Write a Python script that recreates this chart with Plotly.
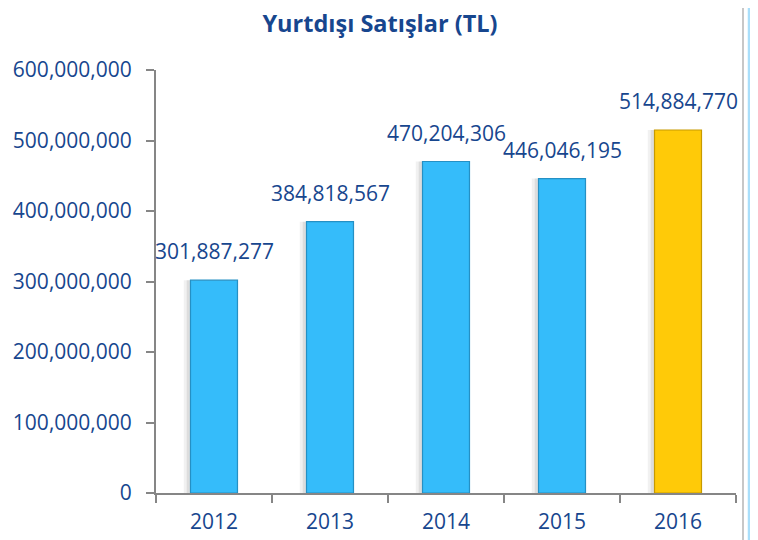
import plotly.graph_objects as go

years = ["2012", "2013", "2014", "2015", "2016"]
sales = [301887277, 384818567, 470204306, 446046195, 514884770]
labels = ["301,887,277", "384,818,567", "470,204,306", "446,046,195", "514,884,770"]
bar_colors = ["#35BCFA", "#35BCFA", "#35BCFA", "#35BCFA", "#FFCA08"]
edge_colors = ["#2590C4", "#2590C4", "#2590C4", "#2590C4", "#C79A00"]
y_ticks = [0, 100000000, 200000000, 300000000, 400000000, 500000000, 600000000]
y_tick_text = ["0", "100,000,000", "200,000,000", "300,000,000", "400,000,000", "500,000,000", "600,000,000"]

TXT = "#17468E"
FONT = "Open Sans"

# page has an 8px body margin, so the figure is 8px smaller and shifted
W, H = 750, 532
L, T, B = 148, 62, 47
R = W - L - 580

fig = go.Figure()
# soft shadow on the left of each bar
fig.add_trace(go.Bar(
    x=years, y=sales, width=0.44, offset=-0.26,
    marker=dict(color="rgba(120,120,120,0.10)", line=dict(width=0)),
    hoverinfo="skip", showlegend=False,
))
fig.add_trace(go.Bar(
    x=years, y=sales, width=0.42, offset=-0.235,
    marker=dict(color="rgba(100,100,100,0.14)", line=dict(width=0)),
    hoverinfo="skip", showlegend=False,
))
fig.add_trace(go.Bar(
    x=years, y=sales, width=0.405, offset=-0.2025,
    marker=dict(color=bar_colors, line=dict(color=edge_colors, width=1.2)),
    showlegend=False,
))

for i, (v, t) in enumerate(zip(sales, labels)):
    fig.add_annotation(x=i, y=v, text=t, showarrow=False, yanchor="bottom",
                       yshift=13, font=dict(family=FONT, size=21, color=TXT))

px = lambda p: (p - 8 - L) / 580.0
fig.update_layout(
    width=W, height=H,
    margin=dict(l=L, r=R, t=T, b=B, autoexpand=False),
    paper_bgcolor="white", plot_bgcolor="white",
    barmode="overlay",
    title=dict(text="<b>Yurtdışı Satışlar (TL)</b>", x=(380 - 8) / W, xanchor="center",
               xref="container",
               y=1 - 16 / H, yanchor="middle",
               font=dict(family=FONT, size=23.5, color=TXT)),
    xaxis=dict(type="category", showgrid=False, showline=True, linecolor="#868686", linewidth=2,
               ticks="outside", tickson="boundaries", ticklen=8, tickcolor="#868686",
               tickwidth=2, tickfont=dict(family=FONT, size=21, color=TXT),
               ticklabelstandoff=9, range=[-0.5, 4.5], automargin=False),
    yaxis=dict(range=[0, 600000000], tickvals=y_ticks, ticktext=y_tick_text,
               showgrid=False, showline=True, linecolor="#868686", linewidth=2,
               ticks="outside", ticklen=8, tickcolor="#868686", tickwidth=2,
               ticklabelstandoff=10, automargin=False,
               tickfont=dict(family=FONT, size=21, color=TXT), zeroline=False),
    shapes=[
        dict(type="line", xref="paper", yref="paper",
             x0=px(743), x1=px(743), y0=-0.3, y1=1.3,
             line=dict(color="#B4B4B4", width=1.5)),
        dict(type="line", xref="paper", yref="paper",
             x0=px(749.5), x1=px(749.5), y0=-0.3, y1=1.3,
             line=dict(color="#A9DEFA", width=3.5)),
    ],
)

fig.write_html("out.html")
